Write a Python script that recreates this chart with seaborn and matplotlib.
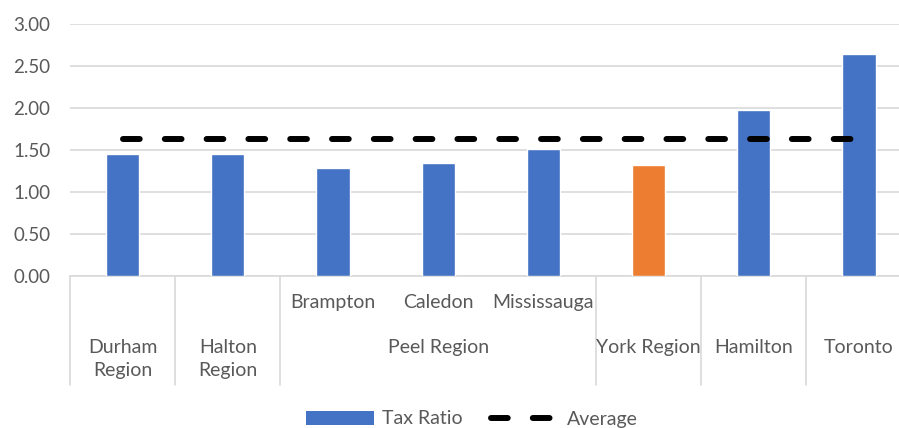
import matplotlib
matplotlib.use("Agg")
import matplotlib.pyplot as plt
import seaborn as sns
import pandas as pd
from matplotlib.patches import Patch
from matplotlib.lines import Line2D

# ---- data ----
municipalities = ["Durham Region", "Halton Region", "Brampton", "Caledon",
                  "Mississauga", "York Region", "Hamilton", "Toronto"]
sub_labels = ["", "", "Brampton", "Caledon", "Mississauga", "", "", ""]
tax_ratio = [1.45, 1.45, 1.29, 1.34, 1.51, 1.32, 1.98, 2.64]
average = [1.63, 1.63, 1.63, 1.63, 1.63, 1.63, 1.63, 1.63]
group_labels = ["Durham\nRegion", "Halton\nRegion", "Peel Region",
                "York Region", "Hamilton", "Toronto"]
group_start = [0, 1, 2, 5, 6, 7]
group_end = [0, 1, 4, 5, 6, 7]
bar_colors = ["#4472C4", "#4472C4", "#4472C4", "#4472C4",
              "#4472C4", "#ED7D31", "#4472C4", "#4472C4"]
y_ticks = [0.0, 0.5, 1.0, 1.5, 2.0, 2.5, 3.0]

sns.set_theme(style="white")
plt.rcParams["font.family"] = ["Lato", "DejaVu Sans"]

df = pd.DataFrame({"muni": municipalities, "ratio": tax_ratio})

fig = plt.figure(figsize=(8.99, 4.28), dpi=100)
W, H = 899, 428
ax = fig.add_axes([70 / W, 152 / H, 841.6 / W, 252 / H])

sns.barplot(data=df, x="muni", y="ratio", hue="muni", order=municipalities,
            hue_order=municipalities, palette=bar_colors, legend=False,
            width=0.314, ax=ax, saturation=1, zorder=3)
ax.plot(range(len(municipalities)), average, color="black", lw=4.3,
        dashes=(2.8, 4.2), dash_capstyle="round", zorder=4, clip_on=False)

ax.set_xlim(-0.5, 7.5)
ax.set_ylim(0, 3)
ax.set_yticks(y_ticks)
ax.set_yticklabels([f"{v:.2f}" for v in y_ticks], color="#595959", fontsize=13.5)
ax.tick_params(axis="y", length=0, pad=14)
ax.set_xticks([])
ax.set_xlabel("")
ax.set_ylabel("")
ax.grid(axis="y", color="#D9D9D9", lw=1.2, zorder=0)
for s in ["left", "right", "top"]:
    ax.spines[s].set_visible(False)
ax.spines["bottom"].set_color("#D9D9D9")
ax.spines["bottom"].set_linewidth(1.2)

tr = ax.get_xaxis_transform()
# dividers
div_positions = [-0.5] + [e + 0.5 for e in group_end[:-1]]
for xp in div_positions:
    ax.plot([xp, xp], [0, -0.4325], transform=tr, color="#D9D9D9", lw=1.2,
            clip_on=False)

for i, lab in enumerate(sub_labels):
    if lab:
        ax.text(i, -0.107, lab, transform=tr, ha="center", va="center",
                color="#595959", fontsize=14)
for lab, s, e in zip(group_labels, group_start, group_end):
    ax.text((s + e) / 2, -0.25, lab, transform=tr, ha="center", va="top",
            color="#595959", fontsize=14, linespacing=1.42)

handles = [Patch(facecolor="#4472C4", edgecolor="none"),
           Line2D([0], [0], color="black", lw=4.3, dashes=(2.8, 4.2),
                  dash_capstyle="round")]
fig.legend(handles, ["Tax Ratio", "Average"], loc="center",
           bbox_to_anchor=(472 / W, 1 - 419 / H), ncol=2, frameon=False,
           fontsize=14, handlelength=3.5, handletextpad=0.4,
           columnspacing=1.5, labelcolor="#595959")

fig.savefig("out.png", dpi=100)
